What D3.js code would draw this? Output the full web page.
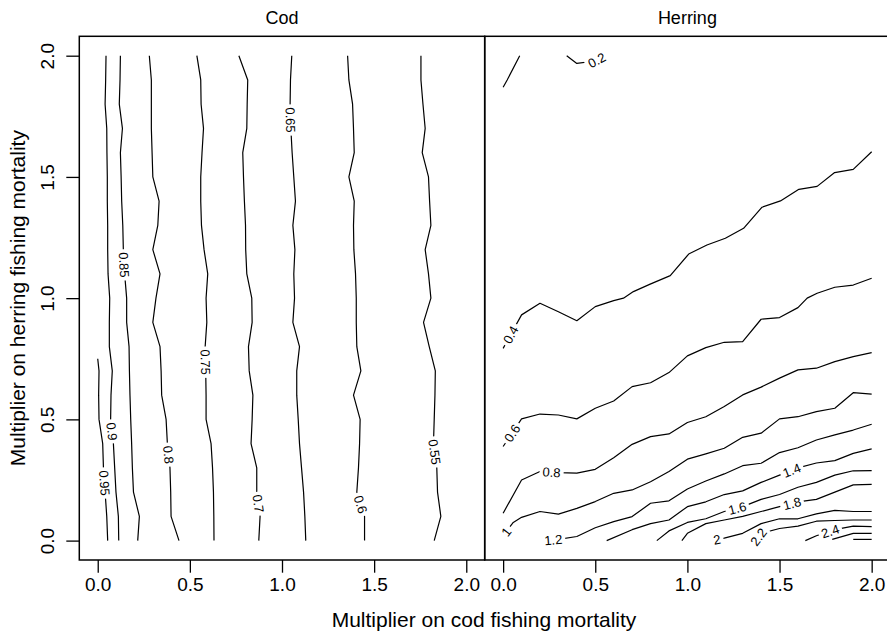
<!DOCTYPE html>
<html>
<head>
<meta charset="utf-8">
<script src="https://cdn.jsdelivr.net/npm/d3@7"></script>
<style>
  body { margin: 0; background: #fff; }
  text { font-family: "Liberation Sans", Arial, Helvetica, sans-serif; fill: #000; }
</style>
</head>
<body>
<svg id="chart" width="887" height="635"></svg>
<script>
// ---- Cod panel: contour lines of relative cod yield, [cod multiplier, herring multiplier]
const cod095 = [[0.0,0.75],[0.007,0.7],[0.005,0.6],[0.007,0.5],[0.027,0.4],[0.031,0.3],[0.04,0.2],[0.049,0.1],[0.054,0.0]];
const cod090 = [[0.045,2.0],[0.043,1.9],[0.04,1.8],[0.049,1.7],[0.05,1.6],[0.052,1.5],[0.052,1.4],[0.054,1.3],[0.054,1.2],[0.056,1.1],[0.065,1.0],[0.063,0.9],[0.063,0.8],[0.079,0.7],[0.072,0.6],[0.07,0.5],[0.085,0.4],[0.092,0.3],[0.099,0.2],[0.112,0.1],[0.114,0.0]];
const cod085 = [[0.123,2.0],[0.121,1.9],[0.117,1.8],[0.134,1.7],[0.123,1.6],[0.127,1.5],[0.13,1.4],[0.136,1.3],[0.139,1.2],[0.146,1.1],[0.157,1.0],[0.157,0.9],[0.17,0.8],[0.172,0.7],[0.175,0.6],[0.179,0.5],[0.184,0.4],[0.188,0.3],[0.194,0.2],[0.226,0.1],[0.217,0.0]];
const cod080 = [[0.28,2.0],[0.291,1.9],[0.291,1.8],[0.291,1.7],[0.295,1.6],[0.299,1.5],[0.333,1.4],[0.326,1.3],[0.299,1.2],[0.338,1.1],[0.316,1.0],[0.299,0.9],[0.338,0.8],[0.344,0.7],[0.347,0.6],[0.371,0.5],[0.378,0.4],[0.392,0.3],[0.396,0.2],[0.398,0.1],[0.441,0.0]];
const cod075 = [[0.538,2.0],[0.559,1.9],[0.561,1.8],[0.574,1.7],[0.566,1.6],[0.559,1.5],[0.559,1.4],[0.563,1.3],[0.577,1.2],[0.597,1.1],[0.588,1.0],[0.592,0.9],[0.583,0.8],[0.586,0.7],[0.588,0.6],[0.588,0.5],[0.615,0.4],[0.623,0.3],[0.628,0.2],[0.63,0.1],[0.631,0.0]];
const cod070 = [[0.766,2.0],[0.814,1.9],[0.811,1.8],[0.809,1.7],[0.787,1.6],[0.791,1.5],[0.796,1.4],[0.802,1.3],[0.803,1.2],[0.809,1.1],[0.836,1.0],[0.838,0.9],[0.818,0.8],[0.822,0.7],[0.842,0.6],[0.838,0.5],[0.832,0.4],[0.863,0.3],[0.863,0.2],[0.881,0.1],[0.874,0.0]];
const cod065 = [[1.053,2.0],[1.046,1.9],[1.044,1.8],[1.048,1.7],[1.055,1.6],[1.064,1.5],[1.073,1.4],[1.059,1.3],[1.07,1.2],[1.064,1.1],[1.068,1.0],[1.059,0.9],[1.095,0.8],[1.08,0.7],[1.08,0.6],[1.088,0.5],[1.095,0.4],[1.106,0.3],[1.117,0.2],[1.124,0.1],[1.129,0.0]];
const cod060 = [[1.356,2.0],[1.363,1.9],[1.383,1.8],[1.388,1.7],[1.392,1.6],[1.363,1.5],[1.392,1.4],[1.388,1.3],[1.39,1.2],[1.399,1.1],[1.403,1.0],[1.403,0.9],[1.406,0.8],[1.428,0.7],[1.388,0.6],[1.424,0.5],[1.421,0.4],[1.415,0.3],[1.406,0.2],[1.448,0.1],[1.448,0.0]];
const cod055 = [[1.754,2.0],[1.754,1.9],[1.765,1.8],[1.777,1.7],[1.761,1.6],[1.795,1.5],[1.801,1.4],[1.808,1.3],[1.777,1.2],[1.795,1.1],[1.808,1.0],[1.768,0.9],[1.799,0.8],[1.832,0.7],[1.83,0.6],[1.826,0.5],[1.822,0.4],[1.84,0.3],[1.844,0.2],[1.862,0.1],[1.826,0.0]];

const codLevels  = ["0.95","0.9","0.85","0.8","0.75","0.7","0.65","0.6","0.55"];
const codLines   = [cod095, cod090, cod085, cod080, cod075, cod070, cod065, cod060, cod055];
const codLabelAt = [[0.027,0.237],[0.07,0.45],[0.139,1.137],[0.378,0.354],[0.583,0.736],[0.869,0.152],[1.053,1.735],[1.421,0.148],[1.823,0.365]];

// ---- Herring panel
const her02a = [[0.0,1.87],[0.022,1.9],[0.09,2.0]];
const her02b = [[0.345,2.0],[0.4,1.968],[0.5,1.978],[0.555,2.0]];
const her04 = [[0.0,0.793],[0.1,0.931],[0.2,0.979],[0.3,0.944],[0.4,0.907],[0.5,0.965],[0.6,0.99],[0.653,1.0],[0.707,1.027],[0.798,1.058],[0.907,1.093],[1.007,1.182],[1.106,1.219],[1.206,1.247],[1.305,1.288],[1.405,1.375],[1.505,1.401],[1.605,1.449],[1.704,1.461],[1.799,1.518],[1.9,1.531],[2.0,1.604]];
const her06 = [[0.0,0.388],[0.1,0.502],[0.2,0.522],[0.3,0.518],[0.4,0.502],[0.5,0.546],[0.6,0.576],[0.7,0.635],[0.8,0.651],[0.9,0.693],[1.0,0.762],[1.1,0.796],[1.2,0.818],[1.3,0.821],[1.4,0.913],[1.5,0.92],[1.6,0.961],[1.65,1.0],[1.704,1.02],[1.8,1.045],[1.9,1.054],[2.0,1.082]];
const her08 = [[0.0,0.113],[0.1,0.25],[0.2,0.285],[0.3,0.28],[0.4,0.278],[0.5,0.294],[0.6,0.342],[0.7,0.397],[0.8,0.429],[0.9,0.44],[1.0,0.487],[1.1,0.511],[1.2,0.553],[1.3,0.601],[1.4,0.633],[1.5,0.67],[1.6,0.704],[1.7,0.711],[1.8,0.738],[1.9,0.759],[2.0,0.775]];
const her10 = [[0.0,0.02],[0.055,0.075],[0.1,0.096],[0.2,0.12],[0.3,0.109],[0.4,0.133],[0.5,0.161],[0.6,0.195],[0.7,0.209],[0.8,0.243],[0.9,0.285],[1.0,0.336],[1.1,0.358],[1.2,0.381],[1.3,0.426],[1.4,0.443],[1.5,0.502],[1.6,0.511],[1.7,0.532],[1.8,0.546],[1.9,0.61],[2.0,0.604]];
const her12 = [[0.22,0.0],[0.3,0.005],[0.4,0.017],[0.5,0.053],[0.6,0.078],[0.7,0.099],[0.8,0.154],[0.9,0.164],[1.0,0.213],[1.1,0.246],[1.2,0.275],[1.3,0.309],[1.4,0.319],[1.5,0.363],[1.6,0.383],[1.7,0.415],[1.8,0.436],[1.9,0.456],[2.0,0.48]];
const her14 = [[0.562,0.0],[0.7,0.045],[0.8,0.07],[0.9,0.085],[1.0,0.14],[1.1,0.16],[1.2,0.19],[1.3,0.205],[1.4,0.24],[1.5,0.27],[1.6,0.3],[1.7,0.32],[1.8,0.33],[1.9,0.36],[2.0,0.378]];
const her16 = [[0.834,0.0],[0.9,0.04],[1.0,0.075],[1.1,0.09],[1.2,0.12],[1.3,0.14],[1.4,0.17],[1.5,0.19],[1.6,0.22],[1.7,0.24],[1.8,0.27],[1.9,0.288],[2.0,0.289]];
const her18 = [[0.97,0.0],[1.0,0.03],[1.1,0.07],[1.2,0.085],[1.3,0.1],[1.4,0.12],[1.5,0.14],[1.6,0.16],[1.7,0.17],[1.8,0.2],[1.9,0.23],[2.0,0.232]];
const her20 = [[1.128,0.0],[1.2,0.01],[1.3,0.03],[1.4,0.07],[1.5,0.09],[1.6,0.09],[1.7,0.11],[1.8,0.125],[1.9,0.12],[2.0,0.12]];
const her22 = [[1.37,0.0],[1.4,0.03],[1.5,0.05],[1.6,0.06],[1.7,0.08],[1.8,0.083],[1.9,0.085],[2.0,0.085]];
const her24 = [[1.64,0.0],[1.7,0.02],[1.8,0.045],[1.9,0.06],[2.0,0.058]];
const her26 = [[1.786,0.005],[1.9,0.03],[2.0,0.03]];
const her28 = [[1.9,0.005],[2.0,0.005]];

const herLevels  = ["", "0.2","0.4","0.6","0.8","1","1.2","1.4","1.6","1.8","2","2.2","2.4","",""];
const herLines   = [her02a, her02b, her04, her06, her08, her10, her12, her14, her16, her18, her20, her22, her24, her26, her28];
const herLabelAt = [null,[0.508,1.982],[0.027,0.855],[0.037,0.449],[0.263,0.281],[0.027,0.03],[0.272,0.003],[1.569,0.285],[1.27,0.137],[1.568,0.152],[1.16,0.004],[1.387,0.014],[1.768,0.055],null,null];

const xTicks = [0, 0.5, 1, 1.5, 2];
const yTicks = [0, 0.5, 1, 1.5, 2];

// ---- layout
const svg = d3.select("#chart");
const frameTop = 36.3, frameBottom = 560, panelW = 405.4;
const y = d3.scaleLinear().domain([-0.08, 2.08]).range([frameBottom, frameTop]);
const fmt = d3.format(".1f");
const tickFont = 19, titleFont = 21;

const panels = [
  { title: "Cod", x0: 79.3, lines: codLines, levels: codLevels, labelAt: codLabelAt },
  { title: "Herring", x0: 484.7, lines: herLines, levels: herLevels, labelAt: herLabelAt }
];

const defs = svg.append("defs");
let maskId = 0;

panels.forEach((p, pi) => {
  const x = d3.scaleLinear().domain([-0.1, 2.1]).range([p.x0, p.x0 + panelW]);
  const g = svg.append("g");

  defs.append("clipPath").attr("id", "clip" + pi)
    .append("rect").attr("x", p.x0).attr("y", frameTop).attr("width", panelW).attr("height", frameBottom - frameTop);

  const line = d3.line().x(d => x(d[0])).y(d => y(d[1]));
  const plot = g.append("g").attr("clip-path", `url(#clip${pi})`);

  p.lines.forEach((pts, i) => {
    const id = "gap" + (maskId++);
    const mask = defs.append("mask").attr("id", id).attr("maskUnits", "userSpaceOnUse")
      .attr("x", 0).attr("y", 0).attr("width", 887).attr("height", 635);
    mask.append("rect").attr("width", 887).attr("height", 635).attr("fill", "#fff");

    plot.append("path").datum(pts).attr("d", line)
      .attr("fill", "none").attr("stroke", "#000").attr("stroke-width", 1.2)
      .attr("stroke-linejoin", "round").attr("mask", `url(#${id})`);

    const at = p.labelAt[i];
    if (!at || !p.levels[i]) return;
    // snap the label onto the nearest segment of its line and follow its direction
    const px = pts.map(d => [x(d[0]), y(d[1])]);
    const ax = x(at[0]), ay = y(at[1]);
    let best = null;
    for (let k = 0; k < px.length - 1; k++) {
      const [x1, y1] = px[k], [x2, y2] = px[k + 1];
      const dx = x2 - x1, dy = y2 - y1, L = dx * dx + dy * dy;
      let t = L ? ((ax - x1) * dx + (ay - y1) * dy) / L : 0;
      t = Math.max(0, Math.min(1, t));
      const qx = x1 + t * dx, qy = y1 + t * dy;
      const dist = (qx - ax) ** 2 + (qy - ay) ** 2;
      if (!best || dist < best.dist) best = { dist, qx, qy, ang: Math.atan2(dy, dx) * 180 / Math.PI };
    }
    let ang = best.ang;
    if (ang > 90) ang -= 180;
    if (ang <= -90) ang += 180;
    const tg = plot.append("g").attr("transform", `translate(${best.qx},${best.qy}) rotate(${ang})`);
    const t = tg.append("text").text(p.levels[i])
      .attr("text-anchor", "middle").attr("dy", "0.36em").attr("font-size", 13);
    const w = t.node().getComputedTextLength();
    mask.append("rect").attr("x", -w / 2 - 3).attr("y", -6).attr("width", w + 6).attr("height", 12)
      .attr("fill", "#000").attr("transform", `translate(${best.qx},${best.qy}) rotate(${ang})`);
  });

  // frame
  g.append("rect").attr("x", p.x0).attr("y", frameTop).attr("width", panelW).attr("height", frameBottom - frameTop)
    .attr("fill", "none").attr("stroke", "#000").attr("stroke-width", 1.5);

  // strip title
  g.append("text").attr("x", p.x0 + panelW / 2).attr("y", 24).attr("text-anchor", "middle")
    .attr("font-size", 18).text(p.title);

  // x axis
  const xa = g.append("g").attr("transform", `translate(0,${frameBottom})`)
    .call(d3.axisBottom(x).tickValues(xTicks).tickFormat(fmt).tickSize(12.7).tickPadding(5));
  xa.select(".domain").remove();
  xa.selectAll(".tick line").attr("stroke", "#000").attr("stroke-width", 1.3);
  xa.selectAll(".tick text").attr("font-size", tickFont).attr("font-family", null).attr("fill", "#000");
});

// y axis (left panel only)
const ya = svg.append("g").attr("transform", `translate(79.3,0)`)
  .call(d3.axisLeft(y).tickValues(yTicks).tickFormat(fmt).tickSize(13).tickPadding(6));
ya.select(".domain").remove();
ya.selectAll(".tick line").attr("stroke", "#000").attr("stroke-width", 1.3);
ya.selectAll(".tick text").attr("font-size", tickFont).attr("font-family", null).attr("fill", "#000")
  .attr("text-anchor", "middle").attr("transform", "rotate(-90)").attr("x", 0).attr("y", -25).attr("dy", "0");

// axis titles
svg.append("text").attr("x", 484).attr("y", 627).attr("text-anchor", "middle")
  .attr("font-size", titleFont).text("Multiplier on cod fishing mortality");
svg.append("text").attr("transform", `translate(25,${(frameTop + frameBottom) / 2}) rotate(-90)`)
  .attr("text-anchor", "middle").attr("font-size", titleFont).text("Multiplier on herring fishing mortality");
</script>
</body>
</html>
